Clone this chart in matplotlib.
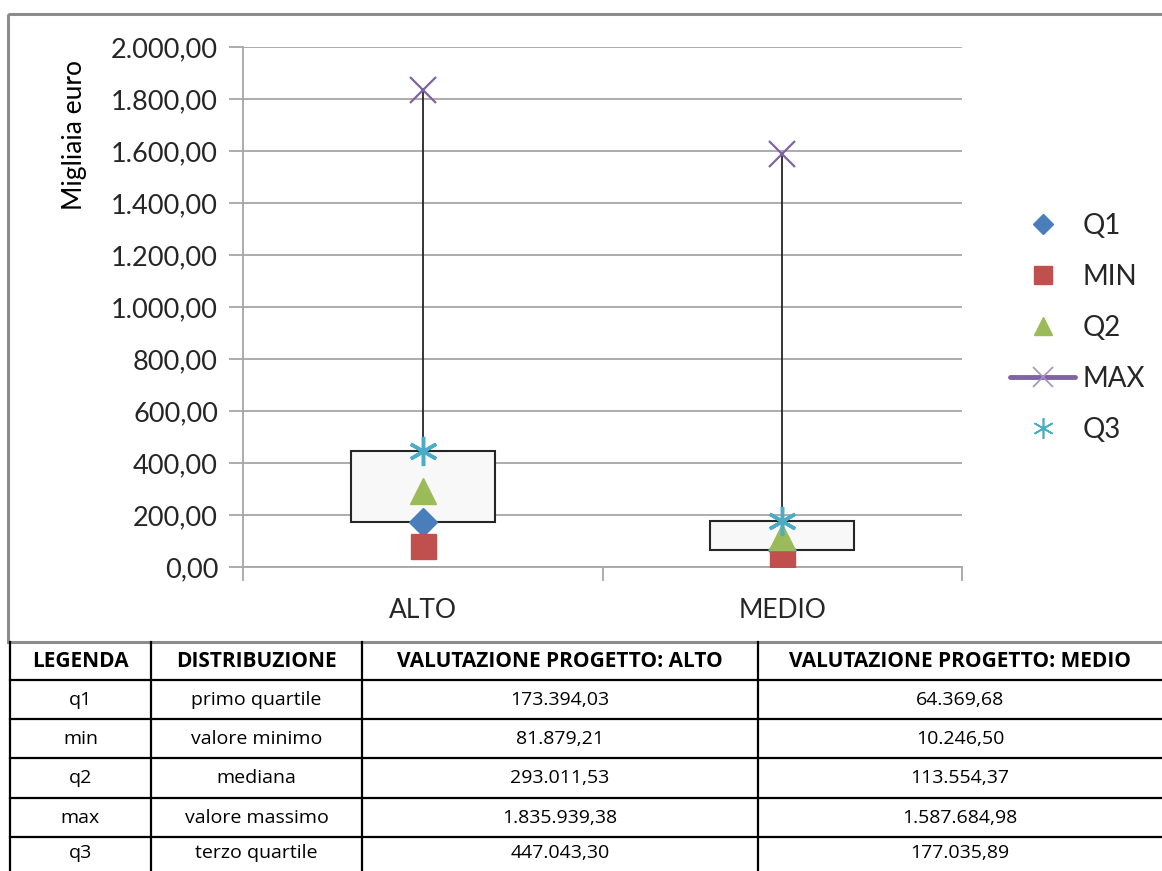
import matplotlib.pyplot as plt
import numpy as np
from matplotlib.lines import Line2D
from matplotlib.patches import Rectangle

# valori in migliaia di euro
categorie = ["ALTO", "MEDIO"]
q1 = [173.39403, 64.36968]
minimo = [81.87921, 10.24650]
q2 = [293.01153, 113.55437]
massimo = [1835.93938, 1587.68498]
q3 = [447.04330, 177.03589]

yticks = [0, 200, 400, 600, 800, 1000, 1200, 1400, 1600, 1800, 2000]

# tabella sotto il grafico
col_header = ["LEGENDA", "DISTRIBUZIONE", "VALUTAZIONE PROGETTO: ALTO",
              "VALUTAZIONE PROGETTO: MEDIO"]
col_legenda = ["q1", "min", "q2", "max", "q3"]
col_distr = ["primo quartile", "valore minimo", "mediana", "valore massimo",
             "terzo quartile"]
col_alto = ["173.394,03", "81.879,21", "293.011,53", "1.835.939,38", "447.043,30"]
col_medio = ["64.369,68", "10.246,50", "113.554,37", "1.587.684,98", "177.035,89"]

W, H = 1162, 871
fig = plt.figure(figsize=(W / 100, H / 100), dpi=100)

# sfondo: cornice del grafico e tabella, in pixel
bg = fig.add_axes([0, 0, 1, 1])
bg.set_xlim(0, W)
bg.set_ylim(H, 0)
bg.axis("off")
bg.add_patch(Rectangle((8, 14), 1200, 628, fill=False, ec="#8c8c8c", lw=2.2))

row_y = [642, 680, 719, 758, 798, 837, 876]
col_x = [10, 151, 362, 758, 1170]
for y in row_y[1:]:
    bg.plot([col_x[0], col_x[-1]], [y, y], color="black", lw=1.6)
for x in col_x[:-1]:
    bg.plot([x, x], [row_y[0], H], color="black", lw=1.6)

tfont = "Open Sans"
for j, txt in enumerate(col_header):
    bg.text((col_x[j] + col_x[j + 1] - (8 if j == 3 else 0)) / 2,
            (row_y[0] + row_y[1]) / 2, txt, ha="center", va="center",
            fontsize=15, fontweight="bold", family=tfont, stretch="condensed")
cols = [col_legenda, col_distr, col_alto, col_medio]
for j, col in enumerate(cols):
    for i, txt in enumerate(col):
        yc = (row_y[i + 1] + row_y[i + 2]) / 2 if i < 4 else 853
        xc = (col_x[j] + col_x[j + 1] - (8 if j == 3 else 0)) / 2
        bg.text(xc, yc, txt, ha="center", va="center", fontsize=14, family=tfont)

# grafico
x0, x1, yb, yt = 243, 962, 567, 47
ax = fig.add_axes([x0 / W, 1 - yb / H, (x1 - x0) / W, (yb - yt) / H])
ax.patch.set_alpha(0)
pos = np.arange(1, len(categorie) + 1)
ax.set_xlim(0.5, len(categorie) + 0.5)
ax.set_ylim(0, 2000)

grid_c = "#a6a6a6"
for s in ["top", "right"]:
    ax.spines[s].set_visible(False)
for s in ["left", "bottom"]:
    ax.spines[s].set_color(grid_c)
    ax.spines[s].set_linewidth(1.3)
ax.set_yticks(yticks)
ax.yaxis.grid(True, color=grid_c, lw=1.3)
ax.set_axisbelow(True)
ax.set_yticklabels([f"{v:,.2f}".replace(",", "X").replace(".", ",").replace("X", ".")
                    for v in yticks], fontsize=19.5, family="Lato", color="#262626")
ax.tick_params(axis="y", length=10, width=1.3, color=grid_c, pad=8)

ax.set_xticks(np.arange(0.5, len(categorie) + 1, 1))
ax.set_xticklabels([])
ax.set_xticks(pos, minor=True)
ax.set_xticklabels(categorie, minor=True, fontsize=19, family="Lato",
                   color="#262626")
ax.tick_params(axis="x", which="major", length=10, width=1.3, color=grid_c)
ax.tick_params(axis="x", which="minor", length=0, pad=22)

ax.set_ylabel("Migliaia euro", fontsize=19, family="Lato", color="black")
ax.yaxis.set_label_coords(-0.217, 0.83)

ax.vlines(pos, minimo, massimo, color="#262626", lw=1.3, zorder=2)
ax.bar(pos, np.array(q3) - np.array(q1), bottom=q1, width=0.4,
       color="#f8f8f8", edgecolor="#262626", lw=1.5, zorder=3)

c_q1, c_min, c_q2, c_max, c_q3 = "#4a7ebb", "#c0504d", "#9bbb59", "#8064a2", "#4bacc6"
ast = (6, 2, 0)
ax.plot(pos, q1, ls="none", marker="D", ms=14.5, color=c_q1, zorder=4)
ax.plot(pos, minimo, ls="none", marker="s", ms=18, color=c_min, zorder=4)
ax.plot(pos, q2, ls="none", marker="^", ms=19, color=c_q2, zorder=4)
ax.plot(pos, massimo, ls="none", marker="x", ms=19, mew=1.6, color=c_max, zorder=4)
ax.plot(pos, q3, ls="none", marker=ast, ms=21, mew=2.5, color=c_q3, zorder=5)

handles = [
    Line2D([], [], ls="none", marker="D", ms=10, color=c_q1),
    Line2D([], [], ls="none", marker="s", ms=13, color=c_min),
    Line2D([], [], ls="none", marker="^", ms=13, color=c_q2),
    Line2D([], [], color=c_max, lw=3.5, marker="x", ms=14, mew=1.2,
           markeredgecolor="#a58fc4", solid_capstyle="round"),
    Line2D([], [], ls="none", marker=ast, ms=15, mew=1.2, color=c_q3),
]
fig.legend(handles, ["Q1", "MIN", "Q2", "MAX", "Q3"], loc="center left",
           bbox_to_anchor=(1010 / W, 1 - 328 / H), frameon=False,
           prop={"family": "Lato", "size": 20}, labelspacing=0.9,
           handlelength=2.35, handletextpad=0.25, borderpad=0, borderaxespad=0,
           labelcolor="#262626")

fig.savefig("out.png", dpi=100)
